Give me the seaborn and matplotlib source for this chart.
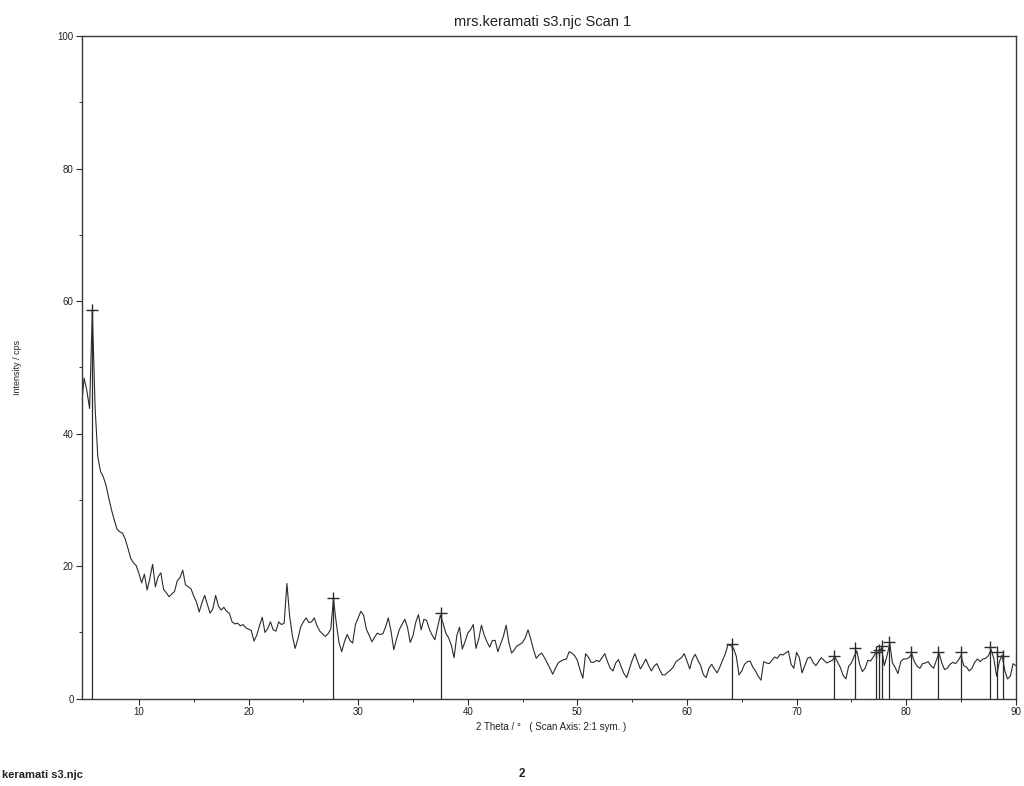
import numpy as np
import pandas as pd
import seaborn as sns
import matplotlib.pyplot as plt

# XRD scan, 2 theta from 4.75 to 90 deg in 0.25 deg steps
theta_start = 4.75
theta_step = 0.25
intensity = [
    44.0,
    48.4, 46.5, 43.8, 58.6,   # 5
    44.0, 36.5, 34.3, 33.5,   # 6
    32.2, 30.3, 28.5, 27.0,   # 7
    25.6, 25.2, 25.0, 24.1,   # 8
    22.7, 21.2, 20.5, 20.1,   # 9
    18.9, 17.5, 18.8, 16.4,   # 10
    18.2, 20.3, 16.9, 18.4,   # 11
    19.0, 16.5, 16.0, 15.4,   # 12
    15.8, 16.2, 17.8, 18.3,   # 13
    19.4, 17.2, 16.9, 16.6,   # 14
    15.5, 14.6, 13.1, 14.5,   # 15
    15.6, 14.2, 12.9, 13.6,   # 16
    15.6, 14.0, 13.4, 13.8,   # 17
    13.2, 12.9, 11.6, 11.3,   # 18
    11.4, 11.0, 11.2, 10.7,   # 19
    10.5, 10.3, 8.7, 9.6,     # 20
    11.0, 12.3, 10.0, 10.6,   # 21
    11.6, 10.4, 10.2, 11.6,   # 22
    11.2, 11.4, 17.4, 12.5,   # 23
    9.5, 7.6, 9.0, 10.8,      # 24
    11.6, 12.2, 11.5, 11.6,   # 25
    12.2, 11.0, 10.2, 9.8,    # 26
    9.4, 9.8, 10.5, 15.0,     # 27
    11.5, 8.5, 7.1, 8.6,      # 28
    9.7, 8.8, 8.4, 11.2,      # 29
    12.2, 13.2, 12.6, 10.5,   # 30
    9.6, 8.6, 9.3, 9.9,       # 31
    9.7, 9.8, 10.8, 12.2,     # 32
    10.2, 7.4, 9.0, 10.4,     # 33
    11.2, 12.0, 10.8, 8.5,    # 34
    9.5, 11.5, 12.7, 10.4,    # 35
    12.0, 11.8, 10.5, 9.6,    # 36
    8.9, 10.8, 12.6, 11.4,    # 37
    9.9, 9.2, 8.1, 6.2,       # 38
    9.5, 10.8, 7.5, 8.6,      # 39
    9.9, 10.4, 11.2, 7.6,     # 40
    9.0, 11.1, 9.6, 8.6,      # 41
    7.8, 8.8, 8.8, 7.1,       # 42
    8.3, 9.4, 11.1, 8.5,      # 43
    6.9, 7.4, 8.0, 8.2,       # 44
    8.5, 9.2, 10.4, 9.0,      # 45
    7.4, 6.1, 6.6, 6.9,       # 46
    6.2, 5.4, 4.6, 3.7,       # 47
    4.6, 5.4, 5.7, 5.9,       # 48
    6.0, 7.1, 6.9, 6.5,       # 49
    5.8, 4.3, 3.1, 6.8,       # 50
    6.3, 5.5, 5.5, 5.8,       # 51
    5.6, 6.2, 6.8, 5.6,       # 52
    4.6, 4.2, 5.4, 5.9,       # 53
    4.8, 3.8, 3.2, 4.5,       # 54
    5.8, 6.8, 5.6, 4.5,       # 55
    5.2, 6.0, 5.0, 4.2,       # 56
    4.9, 5.3, 4.4, 3.6,       # 57
    3.6, 4.0, 4.3, 4.8,       # 58
    5.6, 5.9, 6.2, 6.8,       # 59
    5.7, 4.5, 6.0, 6.7,       # 60
    5.8, 5.0, 3.6, 3.2,       # 61
    4.6, 5.2, 4.5, 3.9,       # 62
    4.8, 5.8, 6.8, 8.2,       # 63
    8.0, 7.6, 6.4, 3.6,       # 64
    4.2, 5.2, 5.6, 5.7,       # 65
    4.8, 4.2, 3.4, 2.8,       # 66
    5.6, 5.4, 5.3, 5.8,       # 67
    6.3, 6.1, 6.7, 6.6,       # 68
    6.9, 7.2, 5.2, 4.6,       # 69
    7.0, 6.2, 3.9, 5.0,       # 70
    6.1, 6.3, 5.5, 5.0,       # 71
    5.6, 6.2, 5.8, 5.4,       # 72
    5.6, 5.8, 6.3, 5.5,       # 73
    4.7, 3.5, 3.0, 4.9,       # 74
    5.4, 6.4, 7.2, 5.2,       # 75
    4.1, 4.6, 5.8, 5.7,       # 76
    6.3, 7.0, 6.9, 7.7,       # 77
    5.0, 6.5, 8.3, 5.4,       # 78
    4.7, 3.8, 5.6, 6.0,       # 79
    6.0, 6.2, 6.8, 5.6,       # 80
    4.9, 4.6, 5.3, 5.4,       # 81
    5.6, 5.0, 4.6, 5.8,       # 82
    6.9, 5.4, 4.4, 4.6,       # 83
    5.2, 5.5, 5.3, 5.8,       # 84
    6.5, 5.0, 4.8, 4.2,       # 85
    4.6, 5.5, 6.0, 5.6,       # 86
    6.0, 6.1, 6.5, 7.4,       # 87
    6.0, 3.4, 5.6, 6.6,       # 88
    4.2, 3.0, 3.4, 5.3,       # 89
    5.0,                      # 90
]

# peak search results (position, height)
peak_theta = [5.7, 27.7, 37.6, 64.1, 73.4, 75.3, 77.2, 77.5, 77.8, 78.4,
              80.4, 82.9, 85.0, 87.6, 88.3, 88.8]
peak_height = [58.7, 15.2, 12.9, 8.2, 6.5, 7.7, 7.1, 7.4, 8.0, 8.6,
               7.0, 7.1, 7.1, 7.8, 7.1, 6.5]

df = pd.DataFrame({'two_theta': theta_start + theta_step * np.arange(len(intensity)),
                   'intensity': intensity})

sns.set_theme(style='white')
plt.rcParams['font.family'] = ['Liberation Sans', 'DejaVu Sans']

fig = plt.figure(figsize=(10.24, 7.86), dpi=100)
ax = fig.add_axes([0.080, 0.111, 0.912, 0.843])

ink = '#2b2b2b'
sns.lineplot(data=df, x='two_theta', y='intensity', ax=ax, color=ink,
             linewidth=0.8, sort=False, estimator=None)
ax.vlines(peak_theta, 0, peak_height, color=ink, linewidth=0.9)
ax.plot(peak_theta, peak_height, linestyle='none', marker='+', color=ink,
        markersize=9, markeredgewidth=1.0)

ax.set_xlim(4.8, 90)
ax.set_ylim(0, 100)
ax.set_xticks(range(10, 91, 10))
ax.set_xticks(range(15, 90, 10), minor=True)
ax.set_yticks(range(0, 101, 20))
ax.set_yticks(range(10, 100, 20), minor=True)
ax.tick_params(axis='both', which='major', direction='out', length=4,
               width=0.8, color=ink, labelsize=7, pad=2, labelcolor='#222222')
ax.tick_params(axis='both', which='minor', direction='out', length=2,
               width=0.7, color=ink)
ax.tick_params(axis='x', which='both', bottom=True)
ax.tick_params(axis='y', which='both', left=True)
for sp in ax.spines.values():
    sp.set_color('#3a3a3a')
    sp.set_linewidth(1.0)
ax.set_xlabel('')
ax.set_ylabel('')

fig.text(0.530, 1 - 22 / 786, 'mrs.keramati s3.njc Scan 1', ha='center', va='center',
         fontsize=10.5, color='#222222')
fig.text(0.538, 1 - 727 / 786, '2 Theta / °   ( Scan Axis: 2:1 sym. )', ha='center',
         va='center', fontsize=7, color='#222222')
fig.text(0.017, 1 - 367 / 786, 'Intensity / cps', rotation=90, ha='center',
         va='center', fontsize=6.5, color='#222222')
fig.text(0.002, 1 - 775 / 786, 'keramati s3.njc', ha='left', va='center',
         fontsize=8, color='#222222', fontweight='bold')
fig.text(0.510, 1 - 774 / 786, '2', ha='center', va='center', fontsize=8.5,
         color='#222222', fontweight='bold')

fig.savefig('out.png', dpi=100, facecolor='white')
